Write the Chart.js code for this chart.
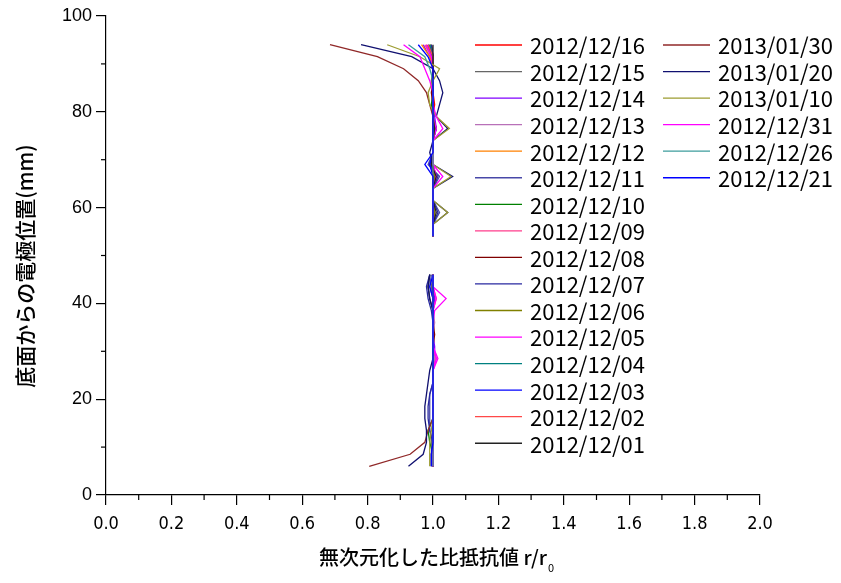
<!DOCTYPE html>
<html><head><meta charset="utf-8">
<script src="https://cdn.jsdelivr.net/npm/chart.js@4"></script>
<style>html,body{margin:0;padding:0;background:#fff}#wrap{width:841px;height:583px}</style>
</head><body><div id="wrap"><canvas id="c" width="841" height="583"></canvas></div>
<script>
// electrode positions (mm from bottom): upper group then lower group
const posUpper = [94, 91.5, 89, 86.5, 84, 81.5, 79, 76.5, 74, 71.5, 69, 66.5, 64, 61.5, 59, 56.5, 54];
const posLower = [46, 43.5, 41, 38.5, 36, 33.5, 31, 28.5, 26, 23.5, 21, 18.5, 16, 13.5, 11, 8.5, 6];

const seriesLabels = ["2012/12/16","2012/12/15","2012/12/14","2012/12/13","2012/12/12","2012/12/11","2012/12/10","2012/12/09","2012/12/08","2012/12/07","2012/12/06","2012/12/05","2012/12/04","2012/12/03","2012/12/02","2012/12/01","2013/01/30","2013/01/20","2013/01/10","2012/12/31","2012/12/26","2012/12/21"];
const seriesColors = ["#FF0000","#666666","#8000FF","#B870B8","#FF8000","#4848A8","#008000","#FF3C8C","#800000","#2828A0","#808000","#FF00FF","#008080","#0000FF","#FF4848","#222222","#902828","#101070","#9C9C30","#FF00FF","#3C9C9C","#0000FF"];

// r/r0 values: 17 upper points then 17 lower points
const r1216 = [0.98,0.995,1.0,1.0,1.0,1.005,1.0,1.005,1.0,1.0,1.0,1.0,1.0,1.0,1.005,1.0,1.0, 1.0,1.0,1.005,1.0,1.0,1.0,1.0,1.005,1.0,1.0,1.0,1.0,1.0,1.0,1.0,1.0,1.0];
const r1215 = [0.99,1.0,1.0,0.995,1.0,1.0,1.0,1.005,1.0,1.0,0.995,1.0,1.0,1.0,1.0,1.0,1.0, 1.0,0.995,1.0,1.0,1.0,1.0,1.0,1.0,1.0,1.0,1.0,1.0,1.0,1.0,0.995,1.0,1.0];
const r1214 = [0.97,0.99,1.0,1.0,1.0,1.0,1.005,1.01,1.0,1.0,0.99,1.005,1.0,1.0,1.005,1.0,1.0, 1.0,1.0,1.005,1.0,1.0,1.0,1.005,1.005,1.0,1.0,1.0,1.0,1.0,1.0,1.0,1.0,1.0];
const r1213 = [0.985,1.0,1.0,1.0,1.0,1.0,1.0,1.005,1.0,1.0,1.0,1.01,1.0,1.0,1.0,1.0,1.0, 1.0,1.0,1.0,1.0,1.005,1.0,1.0,1.005,1.0,1.0,1.0,1.0,1.0,1.0,1.0,1.0,1.0];
const r1212 = [0.965,0.99,1.0,1.0,1.0,1.0,1.0,1.0,1.0,1.0,1.0,1.0,1.0,1.0,1.0,1.0,1.0, 1.0,1.0,1.0,1.0,1.0,1.0,1.0,1.0,1.0,1.0,1.0,1.0,1.0,1.0,1.0,1.0,1.0];
const r1211 = [0.995,1.0,1.0,1.0,1.0,1.0,1.0,1.01,1.0,1.0,0.985,1.02,1.0,1.0,1.02,1.0,1.0, 0.995,0.99,1.0,1.0,1.0,1.0,1.0,1.0,1.0,1.0,0.99,0.99,0.99,0.99,1.0,1.0,1.0];
const r1210 = [0.99,1.0,1.0,1.0,1.0,0.995,1.0,1.0,1.0,1.0,1.0,1.005,1.0,1.0,1.0,1.0,1.0, 1.0,1.0,1.0,1.0,1.0,1.0,1.0,1.0,1.0,1.0,1.0,1.0,1.0,0.985,0.99,1.0,1.0];
const r1209 = [0.975,0.995,1.0,1.0,1.0,1.0,1.0,1.01,1.0,1.0,1.0,1.01,1.0,1.0,1.0,1.0,1.0, 1.0,1.0,1.01,1.0,1.0,1.0,1.0,1.01,1.0,1.0,1.0,1.0,1.0,1.0,1.0,1.0,1.0];
const r1208 = [0.995,1.0,1.0,1.0,0.995,1.0,1.0,1.0,1.0,1.0,1.0,1.0,1.0,1.0,1.0,1.0,1.0, 1.0,1.0,1.0,1.0,1.0,1.005,1.0,1.0,1.0,1.0,1.0,1.0,1.0,1.0,1.0,1.0,1.0];
const r1207 = [0.995,1.0,1.0,1.0,1.0,1.0,1.0,1.01,1.0,1.0,0.99,1.015,1.0,1.0,1.015,1.0,1.0, 0.99,0.98,0.985,0.995,1.0,1.0,1.0,1.0,1.0,1.0,0.99,0.985,0.985,0.99,1.0,1.0,1.0];
const r1206 = [0.99,1.0,1.0,1.0,1.0,1.0,1.0,1.005,1.0,1.0,1.0,1.005,1.0,1.0,1.005,1.0,1.0, 1.0,1.0,1.0,1.0,1.0,1.0,1.0,1.0,1.0,1.0,1.0,1.0,1.0,1.0,1.0,0.995,0.995];
const r1205 = [0.98,0.995,1.0,1.0,1.0,1.0,1.0,1.01,1.0,1.0,1.0,1.01,1.0,1.0,1.0,1.0,1.0, 1.0,1.0,1.01,1.0,1.0,1.0,1.0,1.01,1.0,1.0,1.0,1.0,1.0,1.0,1.0,1.0,1.0];
const r1204 = [0.99,1.0,1.0,1.0,1.0,1.0,1.0,1.0,1.0,1.0,1.0,1.0,1.0,1.0,1.0,1.0,1.0, 1.0,1.0,1.0,1.0,1.0,1.0,1.0,1.0,1.0,1.0,1.0,1.0,1.0,1.0,1.0,1.0,1.0];
const r1203 = [0.985,1.0,1.0,1.0,1.0,1.0,1.0,1.0,1.0,1.0,0.99,1.0,1.0,1.0,1.0,1.0,1.0, 1.0,0.99,1.0,1.0,1.0,1.0,1.0,1.0,1.0,1.0,1.0,1.0,1.0,1.0,1.0,0.995,0.995];
const r1202 = [0.985,1.0,1.0,1.0,1.0,1.0,1.0,1.005,1.0,1.0,1.0,1.0,1.0,1.0,1.0,1.0,1.0, 1.0,1.0,1.0,1.0,1.0,1.0,1.0,1.0,1.0,1.0,1.0,1.0,1.0,1.0,1.0,1.0,1.0];
const r1201 = [1.0,1.0,1.0,1.0,1.0,1.0,1.0,1.005,1.0,1.0,0.995,1.01,1.0,1.0,1.01,1.0,1.0, 0.99,0.985,0.99,1.0,1.0,1.0,1.0,1.0,1.0,1.0,1.0,1.0,1.0,1.0,1.0,1.0,1.0];
const r0130 = [0.685,0.83,0.91,0.955,0.98,0.99,1.0,1.0,1.0,1.0,1.0,1.0,1.0,1.0,1.0,1.0,1.0, 1.0,1.0,1.0,1.0,1.0,1.0,1.0,1.0,1.0,1.0,1.0,1.0,1.0,0.985,0.975,0.93,0.805];
const r0120 = [0.78,0.935,1.0,1.02,1.03,1.02,1.01,1.045,1.0,0.99,1.0,1.06,1.0,1.0,1.045,1.0,1.0, 0.99,0.985,0.99,1.0,1.0,1.0,1.0,1.0,0.99,0.985,0.98,0.975,0.975,0.98,0.98,0.97,0.925];
const r0110 = [0.86,0.96,1.02,1.0,0.985,0.99,1.01,1.05,1.0,1.0,1.0,1.055,1.0,1.0,1.045,1.0,1.0, 1.0,1.0,1.0,1.0,1.0,1.0,1.0,1.0,1.0,1.0,1.0,1.0,1.0,0.995,0.99,0.99,0.99];
const r1231 = [0.91,0.96,0.975,0.99,1.0,1.0,1.01,1.03,1.0,1.0,1.0,1.03,1.0,1.0,1.0,1.0,1.0, 1.0,1.0,1.04,1.005,1.0,1.0,1.0,1.015,1.0,1.0,1.0,1.0,1.0,1.0,1.0,1.0,1.0];
const r1226 = [0.925,0.975,0.99,1.0,1.0,1.0,1.0,1.0,1.0,1.0,1.0,1.0,1.0,1.0,1.0,1.0,1.0, 1.0,1.0,1.0,1.0,1.0,1.0,1.0,1.0,1.0,1.0,1.0,1.0,1.0,1.0,1.0,1.0,1.0];
const r1221 = [0.955,0.985,1.0,1.0,1.0,1.0,1.0,1.0,1.0,1.0,0.975,1.0,1.0,1.0,1.0,1.0,1.0, 1.0,1.0,1.0,1.0,1.0,1.0,1.0,1.0,1.0,1.0,1.0,1.0,1.0,1.0,1.0,0.995,0.995];

const seriesValues = [r1216,r1215,r1214,r1213,r1212,r1211,r1210,r1209,r1208,r1207,r1206,r1205,r1204,r1203,r1202,r1201,r0130,r0120,r0110,r1231,r1226,r1221];

const xTickStep = 0.2, yTickStep = 20;

function buildPoints(vals){
  const pts = [];
  posUpper.forEach((p,i)=>pts.push({x: vals[i], y: p}));
  pts.push({x: null, y: null});
  posLower.forEach((p,i)=>pts.push({x: vals[i+posUpper.length], y: p}));
  return pts;
}

const datasets = seriesLabels.map((lab,i)=>({
  label: lab,
  data: buildPoints(seriesValues[i]),
  borderColor: seriesColors[i],
  backgroundColor: seriesColors[i],
  borderWidth: 1.3,
  pointRadius: 0,
  tension: 0,
  spanGaps: false,
  fill: false
})).reverse();

const extras = {
  id: 'extras',
  afterDraw(chart){
    const ctx = chart.ctx;
    const xs = chart.scales.x, ys = chart.scales.y;
    ctx.save();
    ctx.strokeStyle = '#000'; ctx.lineWidth = 1.2;
    // minor ticks
    for (let i=0;i<xs.ticks.length-1;i++){
      const px = xs.getPixelForValue((xs.ticks[i].value+xs.ticks[i+1].value)/2);
      ctx.beginPath(); ctx.moveTo(px, xs.top); ctx.lineTo(px, xs.top+5); ctx.stroke();
    }
    for (let i=0;i<ys.ticks.length-1;i++){
      const py = ys.getPixelForValue((ys.ticks[i].value+ys.ticks[i+1].value)/2);
      ctx.beginPath(); ctx.moveTo(ys.right, py); ctx.lineTo(ys.right-5, py); ctx.stroke();
    }
    // x title with subscript
    ctx.fillStyle = '#000';
    ctx.textBaseline = 'middle';
    const main = '無次元化した比抵抗値 r/r';
    ctx.font = '500 20px "Noto Sans CJK JP"';
    const wMain = ctx.measureText(main).width;
    ctx.font = '11px "Noto Sans CJK JP"';
    const wSub = ctx.measureText('0').width;
    const cx = (chart.chartArea.left + chart.chartArea.right)/2 + 3;
    const x0 = cx - (wMain + wSub)/2;
    ctx.textAlign = 'left';
    ctx.font = '500 20px "Noto Sans CJK JP"';
    ctx.fillText(main, x0, 557);
    ctx.font = '11px "Noto Sans CJK JP"';
    ctx.fillText('0', x0 + wMain + 1, 568);
    // y title
    ctx.save();
    ctx.translate(25, 266);
    ctx.rotate(-Math.PI/2);
    ctx.textAlign = 'center';
    ctx.font = '500 21px "Noto Sans CJK JP"';
    ctx.fillText('底面からの電極位置(mm)', 0, 0);
    ctx.restore();
    // legend (two columns)
    ctx.font = '22px "Noto Sans CJK JP"';
    ctx.textAlign = 'left';
    const rowH = 26.55, top = 45;
    seriesLabels.forEach((lab,i)=>{
      const col = i < 16 ? 0 : 1;
      const row = i < 16 ? i : i-16;
      const lx = col === 0 ? 475 : 663;
      const y = top + row*rowH;
      ctx.strokeStyle = seriesColors[i]; ctx.lineWidth = 1.3;
      ctx.beginPath(); ctx.moveTo(lx, y); ctx.lineTo(lx+47, y); ctx.stroke();
      ctx.fillStyle = '#000';
      ctx.fillText(lab, lx+55, y+1);
    });
    ctx.restore();
  }
};

new Chart(document.getElementById('c'), {
  type: 'line',
  data: { datasets },
  options: {
    responsive: false,
    animation: false,
    devicePixelRatio: 1,
    layout: { padding: { top: 16, right: 81, left: 0, bottom: 0 } },
    plugins: { legend: { display: false }, tooltip: { enabled: false } },
    scales: {
      x: {
        type: 'linear', min: 0, max: 2,
        ticks: { stepSize: xTickStep, color: '#000', padding: 9,
          font: { family: '"DejaVu Sans Condensed", "Liberation Sans Narrow", "Liberation Sans"', size: 18 },
          callback: v => Number(v).toFixed(1) },
        grid: { drawOnChartArea: false, drawTicks: true, tickLength: 10, color: '#000', lineWidth: 1.2 },
        border: { color: '#000', width: 1.2 },
        afterFit(s){ s.height = 88; }
      },
      y: {
        type: 'linear', min: 0, max: 100,
        ticks: { stepSize: yTickStep, color: '#000', padding: 4,
          font: { family: '"Liberation Sans", Arial', size: 18 } },
        grid: { drawOnChartArea: false, drawTicks: true, tickLength: 10, color: '#000', lineWidth: 1.2 },
        border: { color: '#000', width: 1.2 },
        afterFit(s){ s.width = 106; }
      }
    }
  },
  plugins: [extras]
});
</script></body></html>
